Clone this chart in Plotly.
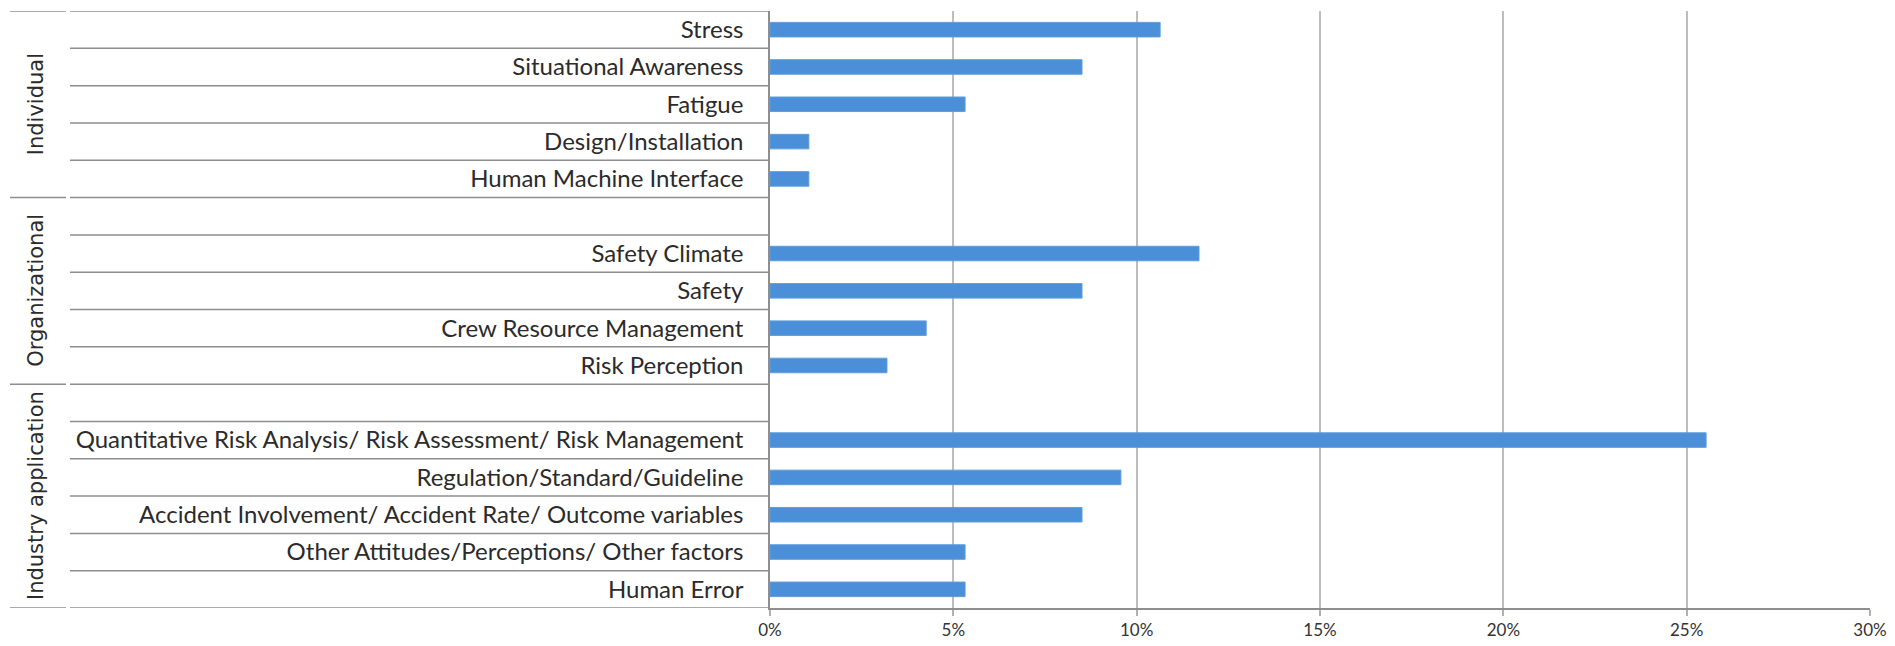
import plotly.graph_objects as go

# Share of studies per human-factor topic (percent), top row first
categories = [
    "Stress",
    "Situational Awareness",
    "Fatigue",
    "Design/Installation",
    "Human Machine Interface",
    "",
    "Safety Climate",
    "Safety",
    "Crew Resource Management",
    "Risk Perception",
    "",
    "Quantitative Risk Analysis/ Risk Assessment/ Risk Management",
    "Regulation/Standard/Guideline",
    "Accident Involvement/ Accident Rate/ Outcome variables",
    "Other Attitudes/Perceptions/ Other factors",
    "Human Error",
]
groups = (["Individual"] * 5 + ["Organizational"] * 5
          + ["Industry application"] * 6)
shares = [10.64, 8.51, 5.32, 1.06, 1.06, None,
          11.70, 8.51, 4.26, 3.19, None,
          25.53, 9.57, 8.51, 5.32, 5.32]
x_ticks = [0, 5, 10, 15, 20, 25, 30]
x_tick_labels = ["0%", "5%", "10%", "15%", "20%", "25%", "30%"]

W, H = 1895, 646
M_L, M_R, M_T, M_B = 770, 25, 11, 38
plot_w = W - M_L - M_R

def px_to_paper(px):
    return (px - M_L) / plot_w

rows = list(range(len(categories)))
LINE = "#8E8E8E"
TEXT = "#2b2b2b"

fig = go.Figure(go.Bar(
    x=shares,
    y=rows,
    orientation="h",
    width=0.39,
    marker=dict(color="#4A8FD8", line=dict(color="#5E9DDD", width=1)),
    hoverinfo="x+y",
))

shapes = []
# row dividers spanning the label column, up to the value axis
for i in range(len(categories) + 1):
    shapes.append(dict(
        type="line", xref="paper", yref="y",
        x0=px_to_paper(70), x1=0, y0=i - 0.5, y1=i - 0.5,
        line=dict(color=LINE, width=1.5), layer="above",
    ))

# group spans and their dividers
annotations = []
spans = []
start = 0
for i in range(1, len(groups) + 1):
    if i == len(groups) or groups[i] != groups[start]:
        spans.append((groups[start], start, i - 1))
        start = i
bounds = sorted({s - 0.5 for _, s, _ in spans} | {e + 0.5 for _, _, e in spans})
for b in bounds:
    shapes.append(dict(
        type="line", xref="paper", yref="y",
        x0=px_to_paper(10), x1=px_to_paper(66), y0=b, y1=b,
        line=dict(color=LINE, width=1.5), layer="above",
    ))
for name, s, e in spans:
    annotations.append(dict(
        text=name, textangle=-90, showarrow=False,
        xref="paper", yref="y",
        x=px_to_paper(36), y=(s + e) / 2,
        xanchor="center", yanchor="middle",
        font=dict(family="DejaVu Sans", size=21, color=TEXT),
    ))

fig.update_layout(
    width=W, height=H,
    margin=dict(l=M_L, r=M_R, t=M_T, b=M_B, autoexpand=False),
    paper_bgcolor="white", plot_bgcolor="white",
    showlegend=False,
    shapes=shapes,
    annotations=annotations,
    font=dict(family="Lato", color=TEXT),
    xaxis=dict(
        range=[0, 30],
        tickmode="array",
        tickvals=x_ticks,
        ticktext=x_tick_labels,
        showgrid=True, gridcolor="#BDBDBD", gridwidth=2,
        zeroline=False,
        showline=True, linecolor=LINE, linewidth=1.5,
        ticks="outside", ticklen=6, tickcolor="#B0B0B0", tickwidth=2,
        ticklabelstandoff=0,
        tickfont=dict(family="Lato", size=17, color="#333333"),
        automargin=False,
        fixedrange=True,
    ),
    yaxis=dict(
        range=[len(categories) - 0.5, -0.5],
        tickmode="array",
        tickvals=rows,
        ticktext=categories,
        showgrid=False, zeroline=False,
        showline=True, linecolor=LINE, linewidth=1.5,
        ticks="",
        ticklabelstandoff=20,
        tickfont=dict(family="Lato", size=24, color=TEXT),
        automargin=False,
        fixedrange=True,
    ),
)

fig.write_html("out.html")
